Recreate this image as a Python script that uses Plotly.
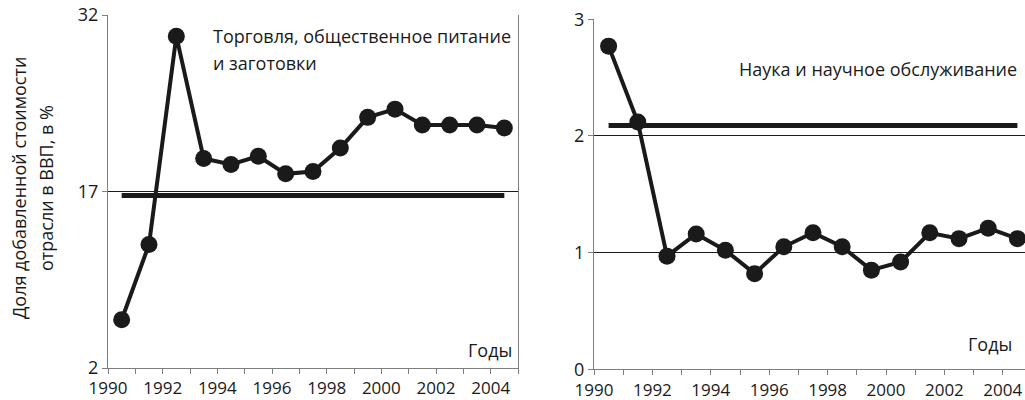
import plotly.graph_objects as go

years = list(range(1990, 2005))
trade_share = [6.1, 12.5, 30.2, 19.8, 19.3, 20.0, 18.5, 18.7, 20.7, 23.3, 24.0, 22.65, 22.65, 22.65, 22.4]
trade_avg = 16.65
science_share = [2.77, 2.12, 0.97, 1.16, 1.02, 0.82, 1.05, 1.17, 1.05, 0.85, 0.92, 1.17, 1.12, 1.21, 1.12]
science_avg = 2.09

left_title = ["Торговля, общественное питание", "и заготовки"]
right_title = "Наука и научное обслуживание"
x_label = "Годы"
y_label = ["Доля добавленной стоимости", "отрасли в ВВП, в %"]

W, H = 1025, 400
FONT = "Open Sans"
INK = "#1a1a1a"
FS = 18

xpos = [y + 0.5 for y in years]

fig = go.Figure()

fig.add_trace(go.Scatter(x=[xpos[0], xpos[-1]], y=[trade_avg, trade_avg], mode="lines",
                         line=dict(color=INK, width=5), xaxis="x", yaxis="y", showlegend=False))
fig.add_trace(go.Scatter(x=xpos, y=trade_share, mode="lines+markers",
                         line=dict(color=INK, width=4), marker=dict(size=17, color=INK),
                         xaxis="x", yaxis="y", showlegend=False, cliponaxis=False))
fig.add_trace(go.Scatter(x=[xpos[0], xpos[-1]], y=[science_avg, science_avg], mode="lines",
                         line=dict(color=INK, width=5), xaxis="x2", yaxis="y2", showlegend=False))
fig.add_trace(go.Scatter(x=xpos, y=science_share, mode="lines+markers",
                         line=dict(color=INK, width=4), marker=dict(size=17, color=INK),
                         xaxis="x2", yaxis="y2", showlegend=False, cliponaxis=False))

def px_x(p):
    return p / W

def px_y(p):
    return 1 - p / H

xcommon = dict(showgrid=False, zeroline=False, showline=True, linecolor="#7f7f7f", linewidth=1,
               ticks="outside", ticklen=5, tickcolor="#7f7f7f", dtick=2, tick0=1990,
               minor=dict(dtick=1, ticks="outside", ticklen=5, tickcolor="#7f7f7f"),
               tickfont=dict(family=FONT, size=17, color=INK), fixedrange=True, automargin=False)
ycommon = dict(zeroline=False, showline=True, linecolor="#7f7f7f", linewidth=1,
               ticks="outside", ticklen=5, tickcolor="#7f7f7f", showgrid=True,
               gridcolor=INK, gridwidth=1,
               tickfont=dict(family=FONT, size=FS, color=INK), fixedrange=True, automargin=False)

def note(text, x, y, xanchor="left", angle=0):
    return dict(text=text, xref="paper", yref="paper", x=px_x(x), y=px_y(y),
                xanchor=xanchor, yanchor="middle", showarrow=False, textangle=angle,
                font=dict(family=FONT, size=FS, color=INK))

fig.update_layout(
    width=W, height=H,
    margin=dict(l=0, r=0, t=0, b=0, pad=0),
    paper_bgcolor="white", plot_bgcolor="white",
    font=dict(family=FONT, color=INK),
    xaxis=dict(xcommon, domain=[px_x(108), px_x(518)], range=[1990, 2005], anchor="y"),
    yaxis=dict(ycommon, domain=[px_y(368), px_y(15)], range=[2, 32], tick0=2, dtick=15,
               anchor="x", mirror=True),
    xaxis2=dict(xcommon, domain=[px_x(594), 1.0], range=[1990, 1990 + (1025 - 594) / 29.2], anchor="y2"),
    yaxis2=dict(ycommon, domain=[px_y(369.3), px_y(19.3)], range=[0, 3], dtick=1, anchor="x2"),
    annotations=[
        note(left_title[0], 211, 36),
        note(left_title[1], 211, 63),
        note(right_title, 1019, 69, xanchor="right"),
        note(x_label, 514, 350, xanchor="right"),
        note(x_label, 1014, 344, xanchor="right"),
        note(y_label[0], 19, 188, xanchor="center", angle=-90),
        note(y_label[1], 46, 188, xanchor="center", angle=-90),
    ],
)

fig.write_html("out.html", config={"displayModeBar": False},
               post_script="document.body.style.margin='0';document.body.style.overflow='hidden';")
